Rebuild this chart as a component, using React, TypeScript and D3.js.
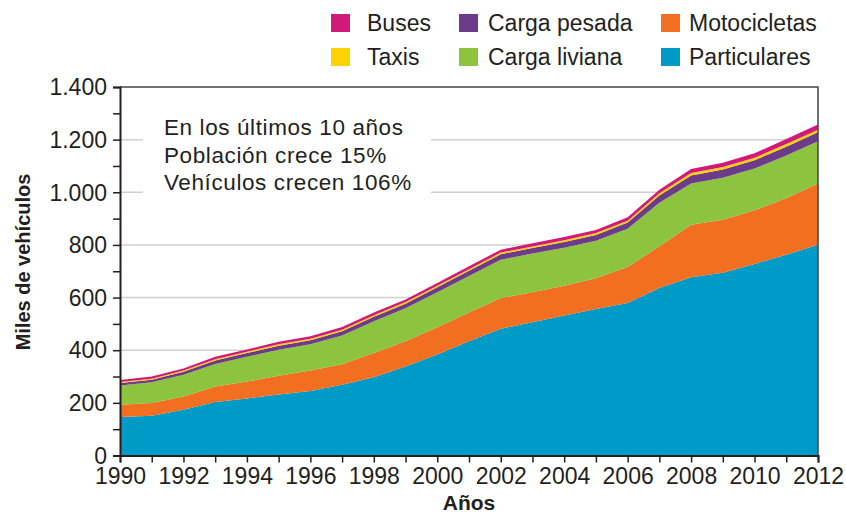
import { useEffect, useRef } from 'react'
import * as d3 from 'd3'

const YEARS = [1990, 1991, 1992, 1993, 1994, 1995, 1996, 1997, 1998, 1999, 2000, 2001, 2002, 2003, 2004, 2005, 2006, 2007, 2008, 2009, 2010, 2011, 2012]
// miles de vehículos por categoría
const PARTICULARES = [146, 151, 174, 203, 217, 232, 245, 269, 297, 338, 384, 434, 482, 506, 532, 557, 579, 636, 677, 694, 728, 763, 801]
const MOTOCICLETAS = [47, 48, 50, 59, 64, 71, 78, 78, 92, 96, 103, 109, 116, 114, 113, 116, 137, 159, 200, 202, 204, 214, 232]
const CARGA_LIVIANA = [73, 79, 83, 86, 94, 99, 100, 109, 121, 125, 133, 139, 146, 147, 144, 143, 145, 165, 156, 159, 158, 163, 161]
const CARGA_PESADA = [9, 10, 11, 13, 14, 15, 15, 16, 17, 18, 19, 20, 21, 21, 22, 22, 24, 28, 31, 32, 32, 33, 34]
const TAXIS = [4, 4, 5, 5, 5, 6, 6, 6, 6, 6, 6, 6, 6, 6, 7, 7, 7, 8, 9, 9, 9, 10, 10]
const BUSES = [8, 8, 8, 9, 9, 9, 9, 10, 10, 10, 10, 11, 11, 12, 12, 12, 13, 14, 15, 16, 17, 19, 20]

const SERIES = [
  { key: 'Particulares', values: PARTICULARES, color: '#009ac7' },
  { key: 'Motocicletas', values: MOTOCICLETAS, color: '#f26f21' },
  { key: 'Carga liviana', values: CARGA_LIVIANA, color: '#8cc43f' },
  { key: 'Carga pesada', values: CARGA_PESADA, color: '#6c3b8a' },
  { key: 'Taxis', values: TAXIS, color: '#ffd200' },
  { key: 'Buses', values: BUSES, color: '#d0197b' },
]
// legend order: two rows, three columns
const LEGEND = [
  ['Buses', 'Carga pesada', 'Motocicletas'],
  ['Taxis', 'Carga liviana', 'Particulares'],
]
const Y_TICKS = [0, 200, 400, 600, 800, 1000, 1200, 1400]
const NOTE = ['En los últimos 10 años', 'Población crece 15%', 'Vehículos crecen 106%']

const fmt = (v: number) => d3.format(',')(v).replace(/,/g, '.')

export default function App() {
  const svgRef = useRef<SVGSVGElement>(null)

  useEffect(() => {
    const W = 846, H = 513
    const left = 120, right = 818, top = 87, bottom = 455.5
    const font = 'Liberation Sans, Arial, sans-serif'
    const ink = '#231f20'

    const svg = d3.select(svgRef.current!)
    svg.selectAll('*').remove()
    svg.attr('width', W).attr('height', H).attr('viewBox', `0 0 ${W} ${H}`)

    const x = d3.scaleLinear().domain([1990, 2012]).range([left, right])
    const y = d3.scaleLinear().domain([0, 1400]).range([bottom, top])

    const rows = YEARS.map((yr, i) => {
      const r: Record<string, number> = { year: yr }
      SERIES.forEach((s) => { r[s.key] = s.values[i] })
      return r
    })
    const stacked = d3.stack<Record<string, number>>().keys(SERIES.map((s) => s.key))(rows)

    // gridlines
    svg.append('g').selectAll('line').data(Y_TICKS.filter((t) => t > 0 && t < 1400)).join('line')
      .attr('x1', left).attr('x2', right).attr('y1', (d) => y(d)).attr('y2', (d) => y(d))
      .attr('stroke', '#d0d0d0').attr('stroke-width', 1.5)

    const area = d3.area<d3.SeriesPoint<Record<string, number>>>()
      .x((d) => x(d.data.year)).y0((d) => y(d[0])).y1((d) => y(d[1]))

    svg.append('g').selectAll('path').data(stacked).join('path')
      .attr('d', (d) => area(d) ?? '')
      .attr('fill', (_, i) => SERIES[i].color)

    // note box
    svg.append('rect').attr('x', 143).attr('y', 108).attr('width', 288).attr('height', 92).attr('fill', '#fff')
    svg.append('g').selectAll('text').data(NOTE).join('text')
      .attr('x', 164).attr('y', (_, i) => 135 + i * 27.5)
      .attr('font-family', font).attr('font-size', 22.5).attr('letter-spacing', 0.6).attr('fill', ink)
      .text((d) => d)

    // frame top + right
    svg.append('path').attr('d', `M${left},${top}H${right}V${bottom}`)
      .attr('fill', 'none').attr('stroke', '#444').attr('stroke-width', 1.5)

    // y axis
    const yAxis = d3.axisLeft(y).tickValues(d3.range(0, 1401, 100)).tickSize(7).tickFormat(() => '')
    const gy = svg.append('g').attr('transform', `translate(${left},0)`).call(yAxis)
    gy.select('.domain').attr('stroke', ink).attr('stroke-width', 2)
    gy.selectAll('.tick line').attr('stroke', ink).attr('stroke-width', 1.5)
    svg.append('g').selectAll('text').data(Y_TICKS).join('text')
      .attr('x', 107).attr('y', (d) => y(d)).attr('dy', '0.36em')
      .attr('text-anchor', 'end').attr('font-family', font).attr('font-size', 23).attr('fill', ink)
      .text((d) => fmt(d))

    // x axis
    const xAxis = d3.axisBottom(x).tickValues(YEARS).tickSize(7)
      .tickFormat((d) => ((d as number) % 2 === 0 ? String(d) : ''))
    const gx = svg.append('g').attr('transform', `translate(0,${bottom})`).call(xAxis)
    gx.select('.domain').attr('stroke', ink).attr('stroke-width', 2)
    gx.selectAll('.tick line').attr('stroke', ink).attr('stroke-width', 1.5)
    gx.selectAll('.tick text').attr('font-family', font).attr('font-size', 23).attr('fill', ink).attr('y', 12)

    // axis titles
    svg.append('text').attr('transform', `translate(30,262) rotate(-90)`)
      .attr('text-anchor', 'middle').attr('font-family', font).attr('font-size', 20).attr('font-weight', 700)
      .attr('fill', ink).text('Miles de vehículos')
    svg.append('text').attr('x', (left + right) / 2).attr('y', 510)
      .attr('text-anchor', 'middle').attr('font-family', font).attr('font-size', 21).attr('font-weight', 700)
      .attr('fill', ink).text('Años')

    // legend
    const colX = [331, 459, 661]
    const textX = [367, 488, 689]
    const rowY = [14, 48]
    LEGEND.forEach((row, ri) => row.forEach((key, ci) => {
      const s = SERIES.find((d) => d.key === key)!
      svg.append('rect').attr('x', colX[ci]).attr('y', rowY[ri]).attr('width', 19).attr('height', 18).attr('fill', s.color)
      svg.append('text').attr('x', textX[ci]).attr('y', rowY[ri] + 17)
        .attr('font-family', font).attr('font-size', 23).attr('fill', ink).text(key)
    }))
  }, [])

  return (
    <div style={{ position: 'absolute', left: 0, top: 0, width: 846, height: 513, background: '#fff' }}>
      <svg ref={svgRef} style={{ display: 'block' }} />
    </div>
  )
}
